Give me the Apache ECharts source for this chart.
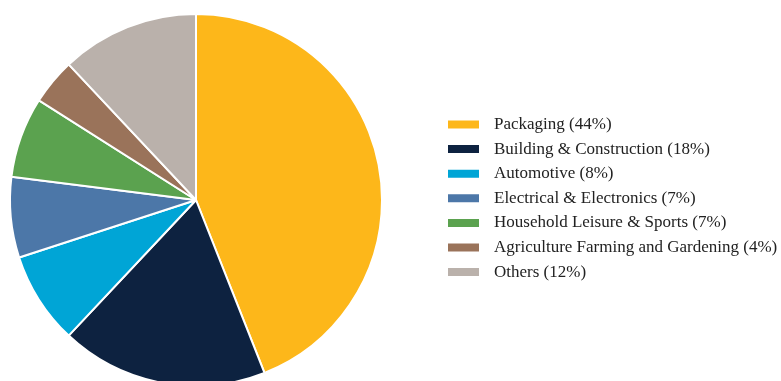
<!DOCTYPE html>
<html>
<head>
<meta charset="utf-8">
<script src="https://cdn.jsdelivr.net/npm/echarts@6/dist/echarts.min.js"></script>
<style>
  html, body { margin: 0; padding: 0; background: #fff; }
  #chart { width: 781px; height: 381px; }
</style>
</head>
<body>
<div id="chart"></div>
<script>
// Market share by end-use sector (%)
const categories = [
  'Packaging',
  'Building & Construction',
  'Automotive',
  'Electrical & Electronics',
  'Household Leisure & Sports',
  'Agriculture Farming and Gardening',
  'Others'
];
const shares = [44, 18, 8, 7, 7, 4, 12];
const colors = ['#FDB71A', '#0D2240', '#00A5D6', '#4C77A8', '#5BA24F', '#9A735A', '#BAB1AB'];

const legendNames = categories.map((c, i) => c + ' (' + shares[i] + '%)');

const chart = echarts.init(document.getElementById('chart'), null, { renderer: 'canvas' });
chart.setOption({
  animation: false,
  color: colors,
  legend: {
    orient: 'vertical',
    left: 446,
    top: 116,
    padding: 0,
    itemWidth: 33,
    itemHeight: 10,
    itemGap: 7.6,
    icon: 'rect',
    selectedMode: false,
    textStyle: {
      fontFamily: '"Liberation Serif", "Times New Roman", serif',
      fontSize: 17,
      lineHeight: 17,
      color: '#222',
      padding: [0, 0, 0, 9]
    },
    data: legendNames
  },
  series: [{
    type: 'pie',
    center: [196, 200],
    radius: 186,
    startAngle: 90,
    clockwise: true,
    label: { show: false },
    labelLine: { show: false },
    emphasis: { disabled: true },
    itemStyle: { borderColor: '#fff', borderWidth: 2 },
    data: legendNames.map((n, i) => ({ name: n, value: shares[i] }))
  }]
});
</script>
</body>
</html>
